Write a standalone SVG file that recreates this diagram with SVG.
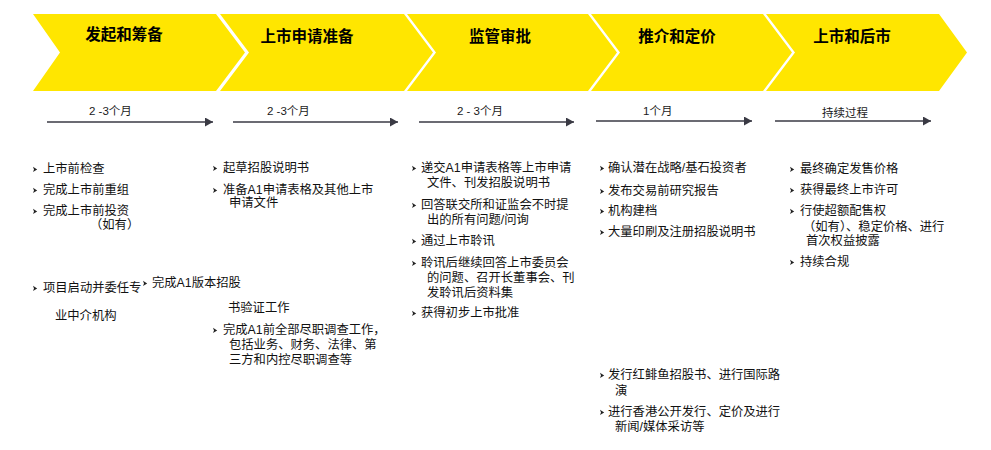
<svg xmlns="http://www.w3.org/2000/svg" width="991" height="450" viewBox="0 0 991 450">
<style>
.chev{fill:#FFE600;}
.title{font-family:"Liberation Sans","Noto Sans CJK SC",sans-serif;font-size:15.5px;font-weight:bold;fill:#000;text-anchor:middle;}
.dur{font-family:"Liberation Sans","Noto Sans CJK SC",sans-serif;font-size:11.5px;fill:#1a1a1a;}
.t{font-family:"Liberation Sans","Noto Sans CJK SC",sans-serif;font-size:12.3px;fill:#111;}
.ln{stroke:#3a3a44;stroke-width:1.5;fill:none;}
.b{fill:#222;}
</style>
<defs>
<marker id="ah" markerUnits="userSpaceOnUse" markerWidth="9" markerHeight="10" refX="8" refY="4.5" orient="auto">
<path d="M0,0 L8,4.5 L0,9 z" fill="#3a3a44"/>
</marker>
<path id="bul" d="M0,-2.2 L4.2,0.6 L0,3 L1,0.4 z"/>
</defs>
<rect width="991" height="450" fill="#fff"/>

<g id="phase1"><polygon class="chev" points="33,14 216,14 245,52.5 216,91 33,91 60,52.5"/><text class="title" x="124" y="40">发起和筹备</text></g>
<g id="phase2"><polygon class="chev" points="220,14 404,14 433,52.5 404,91 220,91 249,52.5"/><text class="title" x="307" y="42">上市申请准备</text></g>
<g id="phase3"><polygon class="chev" points="407,14 588,14 617,52.5 588,91 407,91 436,52.5"/><text class="title" x="500" y="42">监管审批</text></g>
<g id="phase4"><polygon class="chev" points="591,14 763,14 792,52.5 763,91 591,91 620,52.5"/><text class="title" x="677" y="42">推介和定价</text></g>
<g id="phase5"><polygon class="chev" points="766,14 939,14 967,52.5 939,91 766,91 795,52.5"/><text class="title" x="852" y="42">上市和后市</text></g>

<g id="connectors">
<line class="ln" x1="47" y1="122" x2="213" y2="122" marker-end="url(#ah)"/>
<line class="ln" x1="233" y1="122" x2="398" y2="122" marker-end="url(#ah)"/>
<line class="ln" x1="419" y1="122" x2="574" y2="122" marker-end="url(#ah)"/>
<line class="ln" x1="596" y1="121" x2="752" y2="121" marker-end="url(#ah)"/>
<line class="ln" x1="775" y1="121" x2="931" y2="121" marker-end="url(#ah)"/>
</g>

<g id="durations">
<text class="dur" x="89" y="115">2 -3个月</text>
<text class="dur" x="267" y="115">2 -3个月</text>
<text class="dur" x="457" y="115">2 - 3个月</text>
<text class="dur" x="643" y="115">1个月</text>
<text class="dur" x="822" y="117">持续过程</text>
</g>

<g id="col1">
<use href="#bul" class="b" x="33" y="169"/><text class="t" x="43" y="173">上市前检查</text>
<use href="#bul" class="b" x="33" y="190"/><text class="t" x="43" y="194">完成上市前重组</text>
<use href="#bul" class="b" x="33" y="211"/><text class="t" x="43" y="215">完成上市前投资</text>
<text class="t" x="90" y="229">（如有）</text>
<use href="#bul" class="b" x="33" y="288"/><text class="t" x="43" y="292">项目启动并委任专</text>
<text class="t" x="55" y="320">业中介机构</text>
<use href="#bul" class="b" x="143" y="283"/><text class="t" x="152" y="287">完成A1版本招股</text>
<text class="t" x="228" y="312">书验证工作</text>
</g>

<g id="col2">
<use href="#bul" class="b" x="213" y="168"/><text class="t" x="223" y="172">起草招股说明书</text>
<use href="#bul" class="b" x="213" y="190"/><text class="t" x="223" y="194">准备A1申请表格及其他上市</text>
<text class="t" x="229" y="207">申请文件</text>
<use href="#bul" class="b" x="213" y="330"/><text class="t" x="223" y="334">完成A1前全部尽职调查工作，</text>
<text class="t" x="229" y="349">包括业务、财务、法律、第</text>
<text class="t" x="229" y="364">三方和内控尽职调查等</text>
</g>

<g id="col3">
<use href="#bul" class="b" x="412" y="168"/><text class="t" x="421" y="172">递交A1申请表格等上市申请</text>
<text class="t" x="427" y="187">文件、刊发招股说明书</text>
<use href="#bul" class="b" x="412" y="205"/><text class="t" x="421" y="209">回答联交所和证监会不时提</text>
<text class="t" x="427" y="224">出的所有问题/问询</text>
<use href="#bul" class="b" x="412" y="241"/><text class="t" x="421" y="245">通过上市聆讯</text>
<use href="#bul" class="b" x="412" y="263"/><text class="t" x="421" y="267">聆讯后继续回答上市委员会</text>
<text class="t" x="427" y="282">的问题、召开长董事会、刊</text>
<text class="t" x="427" y="297">发聆讯后资料集</text>
<use href="#bul" class="b" x="412" y="313"/><text class="t" x="421" y="317">获得初步上市批准</text>
</g>

<g id="col4">
<use href="#bul" class="b" x="600" y="168"/><text class="t" x="608" y="172">确认潜在战略/基石投资者</text>
<use href="#bul" class="b" x="600" y="191"/><text class="t" x="608" y="195">发布交易前研究报告</text>
<use href="#bul" class="b" x="600" y="211"/><text class="t" x="608" y="215">机构建档</text>
<use href="#bul" class="b" x="600" y="232"/><text class="t" x="608" y="236">大量印刷及注册招股说明书</text>
<use href="#bul" class="b" x="600" y="375"/><text class="t" x="608" y="379">发行红鲱鱼招股书、进行国际路</text>
<text class="t" x="615" y="395">演</text>
<use href="#bul" class="b" x="600" y="412"/><text class="t" x="608" y="416">进行香港公开发行、定价及进行</text>
<text class="t" x="615" y="431">新闻/媒体采访等</text>
</g>

<g id="col5">
<use href="#bul" class="b" x="790" y="169"/><text class="t" x="800" y="173">最终确定发售价格</text>
<use href="#bul" class="b" x="790" y="190"/><text class="t" x="800" y="194">获得最终上市许可</text>
<use href="#bul" class="b" x="790" y="211"/><text class="t" x="800" y="215">行使超额配售权</text>
<text class="t" x="803" y="231">（如有）、稳定价格、进行</text>
<text class="t" x="806" y="245">首次权益披露</text>
<use href="#bul" class="b" x="790" y="262"/><text class="t" x="800" y="266">持续合规</text>
</g>
</svg>
